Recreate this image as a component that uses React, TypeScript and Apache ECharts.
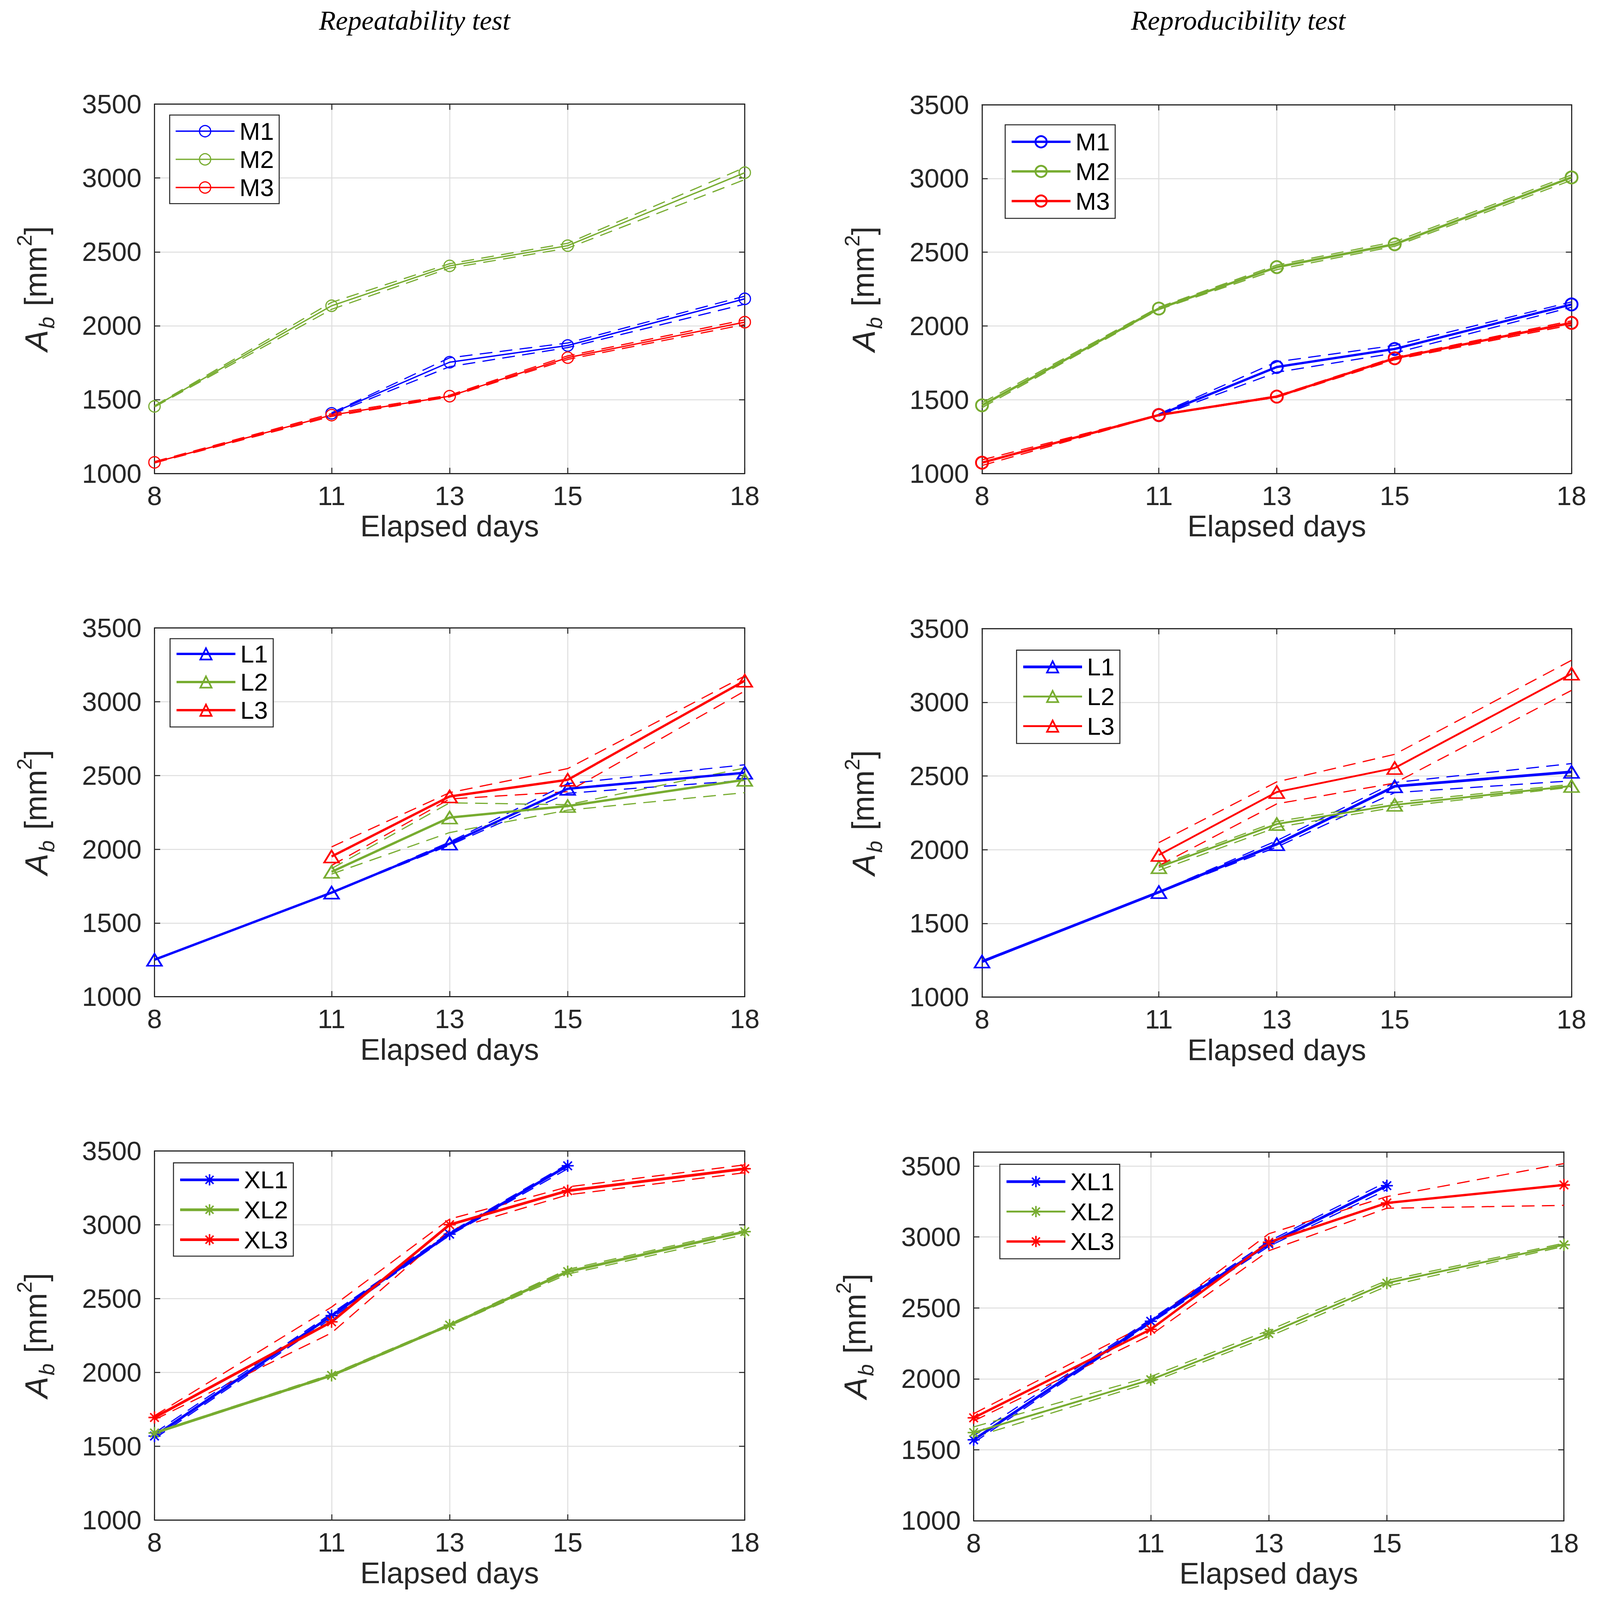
import React, { useEffect, useRef, useState } from "react";
import * as echarts from "echarts";

// ---------- data ----------
const days = [8, 11, 13, 15, 18];
const xTicks = [8, 11, 13, 15, 18];
const yTicks = [1000, 1500, 2000, 2500, 3000, 3500];
const columnTitles = ["Repeatability test", "Reproducibility test"];
const xName = "Elapsed days";

// Repeatability, M
const repM1 = [null, 1407, 1753, 1866, 2182];
const repM1Hi = [null, 1410, 1783, 1883, 2200];
const repM1Lo = [null, 1400, 1723, 1852, 2146];
const repM2 = [1454, 2135, 2405, 2542, 3036];
const repM2Hi = [1458, 2158, 2420, 2558, 3071];
const repM2Lo = [1450, 2111, 2390, 2525, 2989];
const repM3 = [1075, 1395, 1523, 1784, 2024];
const repM3Hi = [1080, 1405, 1530, 1796, 2040];
const repM3Lo = [1071, 1386, 1518, 1772, 2008];

// Reproducibility, M
const rpdM1 = [null, 1396, 1722, 1844, 2146];
const rpdM1Hi = [null, 1403, 1757, 1868, 2163];
const rpdM1Lo = [null, 1389, 1686, 1816, 2127];
const rpdM2 = [1462, 2118, 2399, 2554, 3007];
const rpdM2Hi = [1479, 2127, 2413, 2571, 3024];
const rpdM2Lo = [1446, 2111, 2382, 2540, 2988];
const rpdM3 = [1073, 1396, 1521, 1781, 2021];
const rpdM3Hi = [1092, 1398, 1526, 1788, 2035];
const rpdM3Lo = [1054, 1394, 1516, 1771, 2007];

// Repeatability, L
const repL1 = [1251, 1706, 2038, 2410, 2519];
const repL1Hi = [1251, 1706, 2049, 2445, 2573];
const repL1Lo = [1251, 1706, 2027, 2380, 2467];
const repL2 = [null, 1847, 2215, 2293, 2471];
const repL2Hi = [null, 1869, 2315, 2302, 2551];
const repL2Lo = [null, 1832, 2113, 2265, 2384];
const repL3 = [null, 1951, 2358, 2471, 3143];
const repL3Hi = [null, 2016, 2384, 2547, 3175];
const repL3Lo = [null, 1890, 2341, 2390, 3073];

// Reproducibility, L
const rpdL1 = [1241, 1712, 2037, 2430, 2528];
const rpdL1Hi = [1245, 1714, 2061, 2456, 2584];
const rpdL1Lo = [1235, 1710, 2018, 2387, 2467];
const rpdL2 = [null, 1881, 2174, 2304, 2432];
const rpdL2Hi = [null, 1892, 2191, 2321, 2443];
const rpdL2Lo = [null, 1859, 2152, 2287, 2424];
const rpdL3 = [null, 1964, 2391, 2554, 3194];
const rpdL3Hi = [null, 2048, 2460, 2647, 3285];
const rpdL3Lo = [null, 1892, 2311, 2452, 3081];

// Repeatability, XL
const repXL1 = [1569, 2385, 2937, 3400, null];
const repXL1Hi = [1590, 2400, 2948, 3412, null];
const repXL1Lo = [1552, 2368, 2929, 3380, null];
const repXL2 = [1590, 1980, 2321, 2683, 2954];
const repXL2Hi = [1594, 1988, 2328, 2698, 2969];
const repXL2Lo = [1586, 1973, 2315, 2666, 2933];
const repXL3 = [1695, 2343, 3001, 3231, 3380];
const repXL3Hi = [1707, 2443, 3039, 3257, 3406];
const repXL3Lo = [1680, 2268, 2965, 3203, 3353];

// Reproducibility, XL
const rpdXL1 = [1570, 2406, 2952, 3362, null];
const rpdXL1Hi = [1599, 2420, 2970, 3389, null];
const rpdXL1Lo = [1550, 2393, 2934, 3334, null];
const rpdXL2 = [1621, 1994, 2320, 2675, 2945];
const rpdXL2Hi = [1661, 2016, 2342, 2693, 2956];
const rpdXL2Lo = [1588, 1976, 2298, 2653, 2934];
const rpdXL3 = [1725, 2349, 2963, 3240, 3367];
const rpdXL3Hi = [1754, 2398, 3023, 3285, 3518];
const rpdXL3Lo = [1703, 2309, 2903, 3203, 3223];

// ---------- styling ----------
const W = 4215;
const H = 5424;
const BLUE = "#0000FF";
const GREEN = "#77AC30";
const RED = "#FF0000";
const INK = "#262626";
const GRIDC = "#dedede";
const SANS = "Liberation Sans";
const ASTERISK = "path://M0,-10L0,10M-10,0L10,0M-7.07,-7.07L7.07,7.07M-7.07,7.07L7.07,-7.07";

type Group = { name: string; mid: (number | null)[]; hi: (number | null)[]; lo: (number | null)[]; color: string; width: number };
type Panel = {
  key: string; left: number; top: number; w: number; h: number; yMax: number;
  symbol: string; symbolSize: number[]; markerBorder: number;
  leg: { left: number; top: number; gap: number; pt: number; pb: number };
  groups: Group[];
};

const panels: Panel[] = [
  {
    key: "a", left: 407, top: 353, w: 1555, h: 1252, yMax: 3500, symbol: "circle", symbolSize: [34, 34], markerBorder: 3.5,
    leg: { left: 447, top: 390, gap: 12, pt: 13, pb: 13 },
    groups: [
      { name: "M1", mid: repM1, hi: repM1Hi, lo: repM1Lo, color: BLUE, width: 4 },
      { name: "M2", mid: repM2, hi: repM2Hi, lo: repM2Lo, color: GREEN, width: 4 },
      { name: "M3", mid: repM3, hi: repM3Hi, lo: repM3Lo, color: RED, width: 4 },
    ],
  },
  {
    key: "b", left: 2587, top: 355, w: 1553, h: 1250, yMax: 3500, symbol: "circle", symbolSize: [36, 36], markerBorder: 5.5,
    leg: { left: 2648, top: 423, gap: 17, pt: 16, pb: 17 },
    groups: [
      { name: "M1", mid: rpdM1, hi: rpdM1Hi, lo: rpdM1Lo, color: BLUE, width: 7 },
      { name: "M2", mid: rpdM2, hi: rpdM2Hi, lo: rpdM2Lo, color: GREEN, width: 7 },
      { name: "M3", mid: rpdM3, hi: rpdM3Hi, lo: rpdM3Lo, color: RED, width: 7 },
    ],
  },
  {
    key: "c", left: 407, top: 2129, w: 1555, h: 1250, yMax: 3500, symbol: "triangle", symbolSize: [44, 36], markerBorder: 5,
    leg: { left: 448, top: 2165, gap: 12, pt: 10, pb: 15 },
    groups: [
      { name: "L1", mid: repL1, hi: repL1Hi, lo: repL1Lo, color: BLUE, width: 7 },
      { name: "L2", mid: repL2, hi: repL2Hi, lo: repL2Lo, color: GREEN, width: 7 },
      { name: "L3", mid: repL3, hi: repL3Hi, lo: repL3Lo, color: RED, width: 7 },
    ],
  },
  {
    key: "d", left: 2587, top: 2131, w: 1553, h: 1249, yMax: 3500, symbol: "triangle", symbolSize: [44, 36], markerBorder: 5,
    leg: { left: 2678, top: 2204, gap: 17, pt: 15, pb: 17 },
    groups: [
      { name: "L1", mid: rpdL1, hi: rpdL1Hi, lo: rpdL1Lo, color: BLUE, width: 8 },
      { name: "L2", mid: rpdL2, hi: rpdL2Hi, lo: rpdL2Lo, color: GREEN, width: 5.5 },
      { name: "L3", mid: rpdL3, hi: rpdL3Hi, lo: rpdL3Lo, color: RED, width: 5.5 },
    ],
  },
  {
    key: "e", left: 407, top: 3902, w: 1555, h: 1251, yMax: 3500, symbol: ASTERISK, symbolSize: [36, 36], markerBorder: 4.5,
    leg: { left: 457, top: 3942, gap: 18, pt: 16, pb: 14 },
    groups: [
      { name: "XL1", mid: repXL1, hi: repXL1Hi, lo: repXL1Lo, color: BLUE, width: 8 },
      { name: "XL2", mid: repXL2, hi: repXL2Hi, lo: repXL2Lo, color: GREEN, width: 8 },
      { name: "XL3", mid: repXL3, hi: repXL3Hi, lo: repXL3Lo, color: RED, width: 8 },
    ],
  },
  {
    key: "f", left: 2565, top: 3905, w: 1555, h: 1250, yMax: 3600, symbol: ASTERISK, symbolSize: [36, 36], markerBorder: 4.5,
    leg: { left: 2634, top: 3947, gap: 18, pt: 17, pb: 17 },
    groups: [
      { name: "XL1", mid: rpdXL1, hi: rpdXL1Hi, lo: rpdXL1Lo, color: BLUE, width: 8 },
      { name: "XL2", mid: rpdXL2, hi: rpdXL2Hi, lo: rpdXL2Lo, color: GREEN, width: 5.5 },
      { name: "XL3", mid: rpdXL3, hi: rpdXL3Hi, lo: rpdXL3Lo, color: RED, width: 7 },
    ],
  },
];

const titlePos = [
  { x: 1092, y: 69 },
  { x: 3262, y: 69 },
];

function pts(v: (number | null)[]) {
  const out: number[][] = [];
  days.forEach((d, i) => {
    const y = v[i];
    if (y !== null && y !== undefined) out.push([d, y]);
  });
  return out;
}

const plain = (v: number) => String(v);

type Dims = { w: number; h: number; sx: number; sy: number; k: number };

// The layout is designed on a 4215 x 5424 canvas and mapped onto the real viewport.
function measure(): Dims {
  const iw = typeof window !== "undefined" && window.innerWidth > 0 ? window.innerWidth : W;
  const ih = typeof window !== "undefined" && window.innerHeight > 0 ? window.innerHeight : H;
  const w = Math.min(iw, W);
  const h = Math.min(ih, H);
  const sx = w / W;
  const sy = h / H;
  const k = Math.sqrt(sx * sy);
  return { w, h, sx, sy, k };
}

function buildOption(d: Dims) {
  const X = (v: number) => v * d.sx;
  const Y = (v: number) => v * d.sy;
  const K = (v: number) => v * d.k;
  const grid: any[] = [];
  const xAxis: any[] = [];
  const yAxis: any[] = [];
  const legend: any[] = [];
  const series: any[] = [];

  panels.forEach((p, i) => {
    grid.push({ left: X(p.left), top: Y(p.top), width: X(p.w), height: Y(p.h), containLabel: false });
    const tick = { show: true, inside: true, length: K(17), customValues: xTicks, lineStyle: { color: INK, width: K(3) } };
    xAxis.push({
      gridIndex: i, type: "value", min: 8, max: 18, position: "bottom",
      axisLine: { show: true, onZero: false, lineStyle: { color: INK, width: K(3.3) } },
      axisTick: tick,
      axisLabel: { show: true, customValues: xTicks, formatter: plain, fontSize: K(80), fontFamily: SANS, color: INK, margin: Y(30) },
      splitLine: { show: true, lineStyle: { color: GRIDC, width: K(3) } },
      name: xName, nameLocation: "middle", nameGap: Y(128),
      nameTextStyle: { fontSize: K(89), fontFamily: SANS, color: INK },
    });
    xAxis.push({
      gridIndex: i, type: "value", min: 8, max: 18, position: "top",
      axisLine: { show: true, onZero: false, lineStyle: { color: INK, width: K(3.3) } },
      axisTick: tick, axisLabel: { show: false }, splitLine: { show: false },
    });
    const ytick = { show: true, inside: true, length: K(17), customValues: yTicks, lineStyle: { color: INK, width: K(3) } };
    yAxis.push({
      gridIndex: i, type: "value", min: 1000, max: p.yMax, interval: 500, position: "left",
      axisLine: { show: true, onZero: false, lineStyle: { color: INK, width: K(3.3) } },
      axisTick: ytick,
      axisLabel: { show: true, customValues: yTicks, formatter: plain, fontSize: K(80), fontFamily: SANS, color: INK, margin: X(34) },
      splitLine: { show: true, lineStyle: { color: GRIDC, width: K(3) } },
      name: "{a|A}{b|b}{n| [mm}{s|2}{n|]}", nameLocation: "middle", nameGap: X(255),
      nameTextStyle: {
        fontSize: K(92), fontFamily: SANS, color: INK, lineHeight: K(130),
        rich: {
          a: { fontSize: K(96), fontStyle: "italic", fontFamily: SANS, color: INK, lineHeight: K(130) },
          b: { fontSize: K(64), fontStyle: "italic", fontFamily: SANS, color: INK, lineHeight: K(56), verticalAlign: "bottom", padding: [0, K(6), 0, K(4)] },
          n: { fontSize: K(92), fontFamily: SANS, color: INK, lineHeight: K(130) },
          s: { fontSize: K(62), fontFamily: SANS, color: INK, lineHeight: K(56), verticalAlign: "top" },
        },
      },
    });
    yAxis.push({
      gridIndex: i, type: "value", min: 1000, max: p.yMax, interval: 500, position: "right",
      axisLine: { show: true, onZero: false, lineStyle: { color: INK, width: K(3.3) } },
      axisTick: ytick, axisLabel: { show: false }, splitLine: { show: false },
    });

    legend.push({
      show: true, orient: "vertical", left: X(p.leg.left), top: Y(p.leg.top),
      data: p.groups.map((g) => p.key + "|" + g.name),
      formatter: (n: string) => n.split("|")[1],
      itemWidth: X(155), itemHeight: K(42), itemGap: Y(p.leg.gap),
      padding: [Y(p.leg.pt), X(14), Y(p.leg.pb), X(14)],
      borderColor: INK, borderWidth: K(3), backgroundColor: "#fff", borderRadius: 0,
      selectedMode: false,
      lineStyle: { width: "inherit", type: "solid" },
      itemStyle: { borderWidth: "inherit", color: "inherit", borderColor: "inherit" },
      textStyle: { fontSize: K(74), fontFamily: SANS, color: "#000", lineHeight: Y(80), padding: [0, 0, 0, X(8)] },
    });

    p.groups.forEach((g) => {
      [g.hi, g.lo].forEach((arr) => {
        series.push({
          type: "line", xAxisIndex: 2 * i, yAxisIndex: 2 * i, data: pts(arr),
          symbol: "none", silent: true, z: 2,
          lineStyle: { color: g.color, width: K(3.5), type: [K(38), K(22)] },
          itemStyle: { color: g.color },
        });
      });
      series.push({
        type: "line", name: p.key + "|" + g.name, xAxisIndex: 2 * i, yAxisIndex: 2 * i, data: pts(g.mid),
        symbol: p.symbol, symbolSize: [K(p.symbolSize[0]), K(p.symbolSize[1])], showAllSymbol: true, z: 3,
        lineStyle: { color: g.color, width: K(g.width) },
        itemStyle: { color: "rgba(255,255,255,0)", borderColor: g.color, borderWidth: K(p.markerBorder) },
        emphasis: { disabled: true },
      });
    });
  });

  const graphic: any[] = columnTitles.map((t, i) => ({
    type: "text", x: X(titlePos[i].x), y: Y(titlePos[i].y),
    style: { text: t, font: `italic ${K(82)}px 'Liberation Serif'`, fill: "#000", align: "center", verticalAlign: "middle" },
  }));

  return { animation: false, backgroundColor: "#ffffff", grid, xAxis, yAxis, legend, series, graphic };
}

export default function App() {
  const ref = useRef<HTMLDivElement>(null);
  const [dims] = useState(measure);
  useEffect(() => {
    document.body.style.margin = "0";
    document.body.style.overflow = "hidden";
    document.documentElement.style.overflow = "hidden";
    if (!ref.current) return;
    const chart = echarts.init(ref.current, undefined, { renderer: "svg" });
    chart.setOption(buildOption(dims) as any);
    return () => chart.dispose();
  }, [dims]);
  return <div ref={ref} style={{ width: dims.w, height: dims.h, background: "#fff" }} />;
}
